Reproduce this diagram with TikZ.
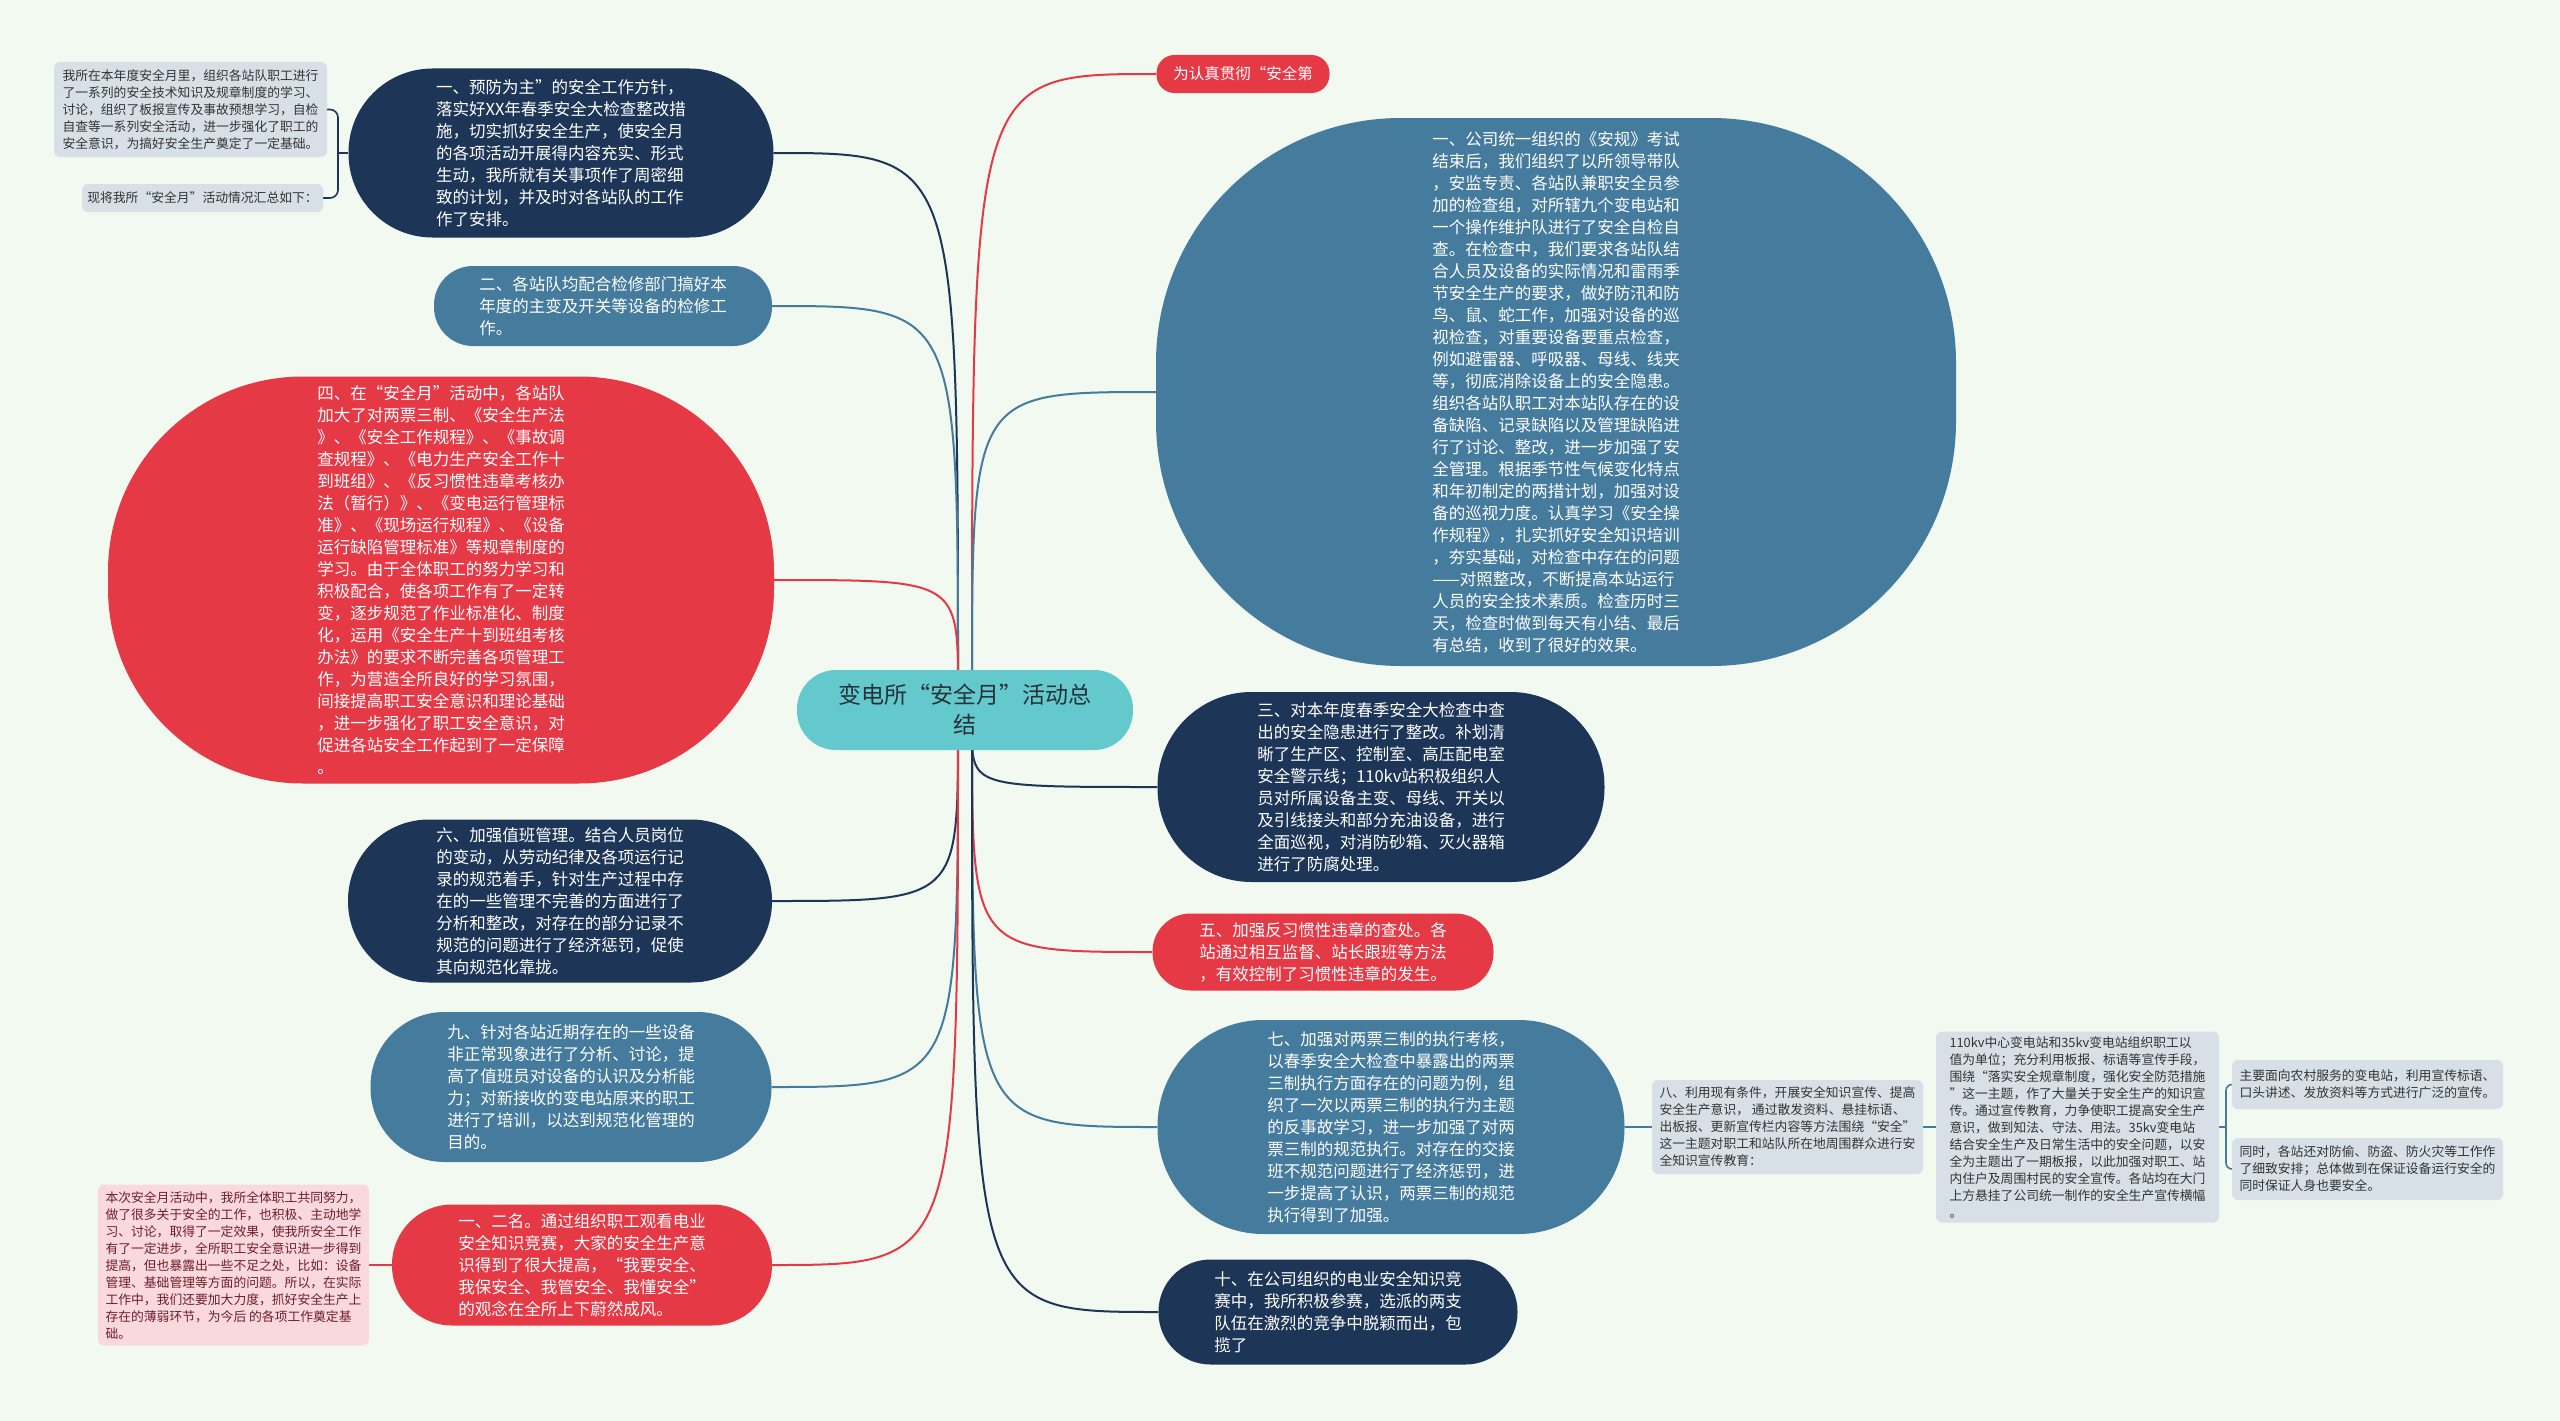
\documentclass[tikz,border=0pt]{standalone}
\usepackage{fontspec}
\newfontfamily\cjk{Noto Sans CJK SC}
\definecolor{bgc}{RGB}{241,249,240}
\definecolor{navy}{RGB}{29,53,87}
\definecolor{steel}{RGB}{69,123,157}
\definecolor{redc}{RGB}{230,57,70}
\definecolor{tealc}{RGB}{99,201,204}
\definecolor{notec}{RGB}{215,224,231}
\definecolor{pinkc}{RGB}{250,217,222}
\definecolor{notetxt}{RGB}{51,51,51}
\definecolor{pinktxt}{RGB}{110,30,40}
\definecolor{centertxt}{RGB}{38,50,56}
\pgfdeclarelayer{bglayer}
\pgfdeclarelayer{edgelayer}
\pgfsetlayers{bglayer,edgelayer,main}
\begin{document}
\begin{tikzpicture}[x=1pt,y=-1pt,
  topic/.style={align=left, text=white, inner sep=0pt, font=\cjk\fontsize{16.5}{22}\selectfont},
  note/.style={align=left, fill=notec, text=notetxt, rounded corners=6pt, inner sep=0pt, font=\cjk\fontsize{12.8}{17}\selectfont},
  pinknote/.style={note, fill=pinkc, text=pinktxt},
  link/.style={line width=2pt},
  thinlink/.style={line width=1.6pt},
]
\useasboundingbox (0,0) rectangle (2560,1421);
\begin{pgfonlayer}{bglayer}
\fill[bgc] (0,0) rectangle (2560,1421);
\end{pgfonlayer}

% center
\node[align=center, fill=tealc, text=centertxt, inner sep=0pt, rounded corners=39pt,
  minimum width=336pt, minimum height=80pt, font=\cjk\fontsize{23}{30}\selectfont]
  (c) at (965,710) {变电所“安全月”活动总\\结};
\coordinate (ctl) at (958,690);
\coordinate (ctr) at (972,690);
\coordinate (cbl) at (958,730);
\coordinate (cbr) at (972,730);

% right side
\node[topic, fill=redc, rounded corners=18pt, minimum width=173pt, minimum height=38pt,
  font=\cjk\fontsize{15.5}{20}\selectfont] (top) at (1243,74) {为认真贯彻“安全第};

\node[topic, fill=steel, rounded corners=245pt, minimum width=800pt, minimum height=548pt] (big) at (1556,392) {一、公司统一组织的《安规》考试\\结束后，我们组织了以所领导带队\\，安监专责、各站队兼职安全员参\\加的检查组，对所辖九个变电站和\\一个操作维护队进行了安全自检自\\查。在检查中，我们要求各站队结\\合人员及设备的实际情况和雷雨季\\节安全生产的要求，做好防汛和防\\鸟、鼠、蛇工作，加强对设备的巡\\视检查，对重要设备要重点检查，\\例如避雷器、呼吸器、母线、线夹\\等，彻底消除设备上的安全隐患。\\组织各站队职工对本站队存在的设\\备缺陷、记录缺陷以及管理缺陷进\\行了讨论、整改，进一步加强了安\\全管理。根据季节性气候变化特点\\和年初制定的两措计划，加强对设\\备的巡视力度。认真学习《安全操\\作规程》，扎实抓好安全知识培训\\，夯实基础，对检查中存在的问题\\——对照整改，不断提高本站运行\\人员的安全技术素质。检查历时三\\天，检查时做到每天有小结、最后\\有总结，收到了很好的效果。};

\node[topic, fill=navy, rounded corners=94pt, minimum width=447pt, minimum height=190pt] (n3) at (1381,787) {三、对本年度春季安全大检查中查\\出的安全隐患进行了整改。补划清\\晰了生产区、控制室、高压配电室\\安全警示线；110kv站积极组织人\\员对所属设备主变、母线、开关以\\及引线接头和部分充油设备，进行\\全面巡视，对消防砂箱、灭火器箱\\进行了防腐处理。};

\node[topic, fill=redc, rounded corners=38pt, minimum width=341pt, minimum height=77pt] (n5) at (1323,952) {五、加强反习惯性违章的查处。各\\站通过相互监督、站长跟班等方法\\，有效控制了习惯性违章的发生。};

\node[topic, fill=steel, rounded corners=106pt, minimum width=467pt, minimum height=214pt] (n7) at (1391,1127) {七、加强对两票三制的执行考核，\\以春季安全大检查中暴露出的两票\\三制执行方面存在的问题为例，组\\织了一次以两票三制的执行为主题\\的反事故学习，进一步加强了对两\\票三制的规范执行。对存在的交接\\班不规范问题进行了经济惩罚，进\\一步提高了认识，两票三制的规范\\执行得到了加强。};

\node[topic, fill=navy, rounded corners=52pt, minimum width=359pt, minimum height=105pt] (n10) at (1338,1312) {十、在公司组织的电业安全知识竞\\赛中，我所积极参赛，选派的两支\\队伍在激烈的竞争中脱颖而出，包\\揽了};

\node[note, minimum width=271pt, minimum height=94pt] (n8) at (1787.5,1127) {八、利用现有条件，开展安全知识宣传、提高\\安全生产意识， 通过散发资料、悬挂标语、\\出板报、更新宣传栏内容等方法围绕“安全”\\这一主题对职工和站队所在地周围群众进行安\\全知识宣传教育：};

\node[note, minimum width=283pt, minimum height=191pt] (n110) at (2077.5,1127) {110kv中心变电站和35kv变电站组织职工以\\值为单位；充分利用板报、标语等宣传手段，\\围绕“落实安全规章制度，强化安全防范措施\\”这一主题，作了大量关于安全生产的知识宣\\传。通过宣传教育，力争使职工提高安全生产\\意识，做到知法、守法、用法。35kv变电站\\结合安全生产及日常生活中的安全问题，以安\\全为主题出了一期板报，以此加强对职工、站\\内住户及周围村民的安全宣传。各站均在大门\\上方悬挂了公司统一制作的安全生产宣传横幅\\。};

\node[note, minimum width=271pt, minimum height=49pt] (na) at (2367.5,1084.5) {主要面向农村服务的变电站，利用宣传标语、\\口头讲述、发放资料等方式进行广泛的宣传。};
\node[note, minimum width=271pt, minimum height=62pt] (nb) at (2367.5,1169) {同时，各站还对防偷、防盗、防火灾等工作作\\了细致安排；总体做到在保证设备运行安全的\\同时保证人身也要安全。};
\coordinate (b2) at (2226,1127);

% left side
\node[topic, fill=navy, rounded corners=84pt, minimum width=425pt, minimum height=169pt] (n1) at (561,153) {一、预防为主”的安全工作方针，\\落实好XX年春季安全大检查整改措\\施，切实抓好安全生产，使安全月\\的各项活动开展得内容充实、形式\\生动，我所就有关事项作了周密细\\致的计划，并及时对各站队的工作\\作了安排。};

\node[note, minimum width=273pt, minimum height=95pt] (note1) at (190.5,109.5) {我所在本年度安全月里，组织各站队职工进行\\了一系列的安全技术知识及规章制度的学习、\\讨论，组织了板报宣传及事故预想学习，自检\\自查等一系列安全活动，进一步强化了职工的\\安全意识，为搞好安全生产奠定了一定基础。};
\node[note, minimum width=241pt, minimum height=28pt] (note2) at (202.5,198) {现将我所“安全月”活动情况汇总如下：};
\coordinate (b1) at (338,153);

\node[topic, fill=steel, rounded corners=39pt, minimum width=338pt, minimum height=80pt] (n2) at (603,306) {二、各站队均配合检修部门搞好本\\年度的主变及开关等设备的检修工\\作。};

\node[topic, fill=redc, rounded corners=195pt, minimum width=666pt, minimum height=407pt] (n4) at (441,580) {四、在“安全月”活动中，各站队\\加大了对两票三制、《安全生产法\\》、《安全工作规程》、《事故调\\查规程》、《电力生产安全工作十\\到班组》、《反习惯性违章考核办\\法（暂行）》、《变电运行管理标\\准》、《现场运行规程》、《设备\\运行缺陷管理标准》等规章制度的\\学习。由于全体职工的努力学习和\\积极配合，使各项工作有了一定转\\变，逐步规范了作业标准化、制度\\化，运用《安全生产十到班组考核\\办法》的要求不断完善各项管理工\\作，为营造全所良好的学习氛围，\\间接提高职工安全意识和理论基础\\，进一步强化了职工安全意识，对\\促进各站安全工作起到了一定保障\\。};

\node[topic, fill=navy, rounded corners=81pt, minimum width=424pt, minimum height=163pt] (n6) at (560,901) {六、加强值班管理。结合人员岗位\\的变动，从劳动纪律及各项运行记\\录的规范着手，针对生产过程中存\\在的一些管理不完善的方面进行了\\分析和整改，对存在的部分记录不\\规范的问题进行了经济惩罚，促使\\其向规范化靠拢。};

\node[topic, fill=steel, rounded corners=74pt, minimum width=401pt, minimum height=150pt] (n9) at (571,1087) {九、针对各站近期存在的一些设备\\非正常现象进行了分析、讨论，提\\高了值班员对设备的认识及分析能\\力；对新接收的变电站原来的职工\\进行了培训，以达到规范化管理的\\目的。};

\node[topic, fill=redc, rounded corners=60pt, minimum width=380pt, minimum height=121pt] (n12) at (582,1265) {一、二名。通过组织职工观看电业\\安全知识竞赛，大家的安全生产意\\识得到了很大提高，“我要安全、\\我保安全、我管安全、我懂安全”\\的观念在全所上下蔚然成风。};

\node[pinknote, minimum width=271pt, minimum height=161pt] (pink) at (233.5,1265) {本次安全月活动中，我所全体职工共同努力，\\做了很多关于安全的工作，也积极、主动地学\\习、讨论，取得了一定效果，使我所安全工作\\有了一定进步，全所职工安全意识进一步得到\\提高，但也暴露出一些不足之处，比如：设备\\管理、基础管理等方面的问题。所以，在实际\\工作中，我们还要加大力度，抓好安全生产上\\存在的薄弱环节，为今后 的各项工作奠定基\\础。};

\begin{pgfonlayer}{edgelayer}
% top-right
\draw[link, redc] (ctr) .. controls (ctr|-top.west) .. (top.west);
\draw[link, steel] (ctr) .. controls (ctr|-big.west) .. (big.west);
% bottom-right
\draw[link, navy] (cbr) .. controls (cbr|-n3.west) .. (n3.west);
\draw[link, redc] (cbr) .. controls (cbr|-n5.west) .. (n5.west);
\draw[link, steel] (cbr) .. controls (cbr|-n7.west) .. (n7.west);
\draw[link, navy] (cbr) .. controls (cbr|-n10.west) .. (n10.west);
% top-left
\draw[link, navy] (ctl) .. controls (ctl|-n1.east) .. (n1.east);
\draw[link, steel] (ctl) .. controls (ctl|-n2.east) .. (n2.east);
\draw[link, redc] (ctl) .. controls (ctl|-n4.east) .. (n4.east);
% bottom-left
\draw[link, navy] (cbl) .. controls (cbl|-n6.east) .. (n6.east);
\draw[link, steel] (cbl) .. controls (cbl|-n9.east) .. (n9.east);
\draw[link, redc] (cbl) .. controls (cbl|-n12.east) .. (n12.east);
% sub branches
\draw[thinlink, navy] (n1.west) -- (b1);
\draw[thinlink, navy, rounded corners=8pt] (note1.east) -| (b1) |- (note2.east);
\draw[thinlink, redc] (n12.west) -- (pink.east);
\draw[thinlink, steel] (n7.east) -- (n8.west);
\draw[thinlink, steel] (n8.east) -- (n110.west);
\draw[thinlink, steel] (n110.east) -- (b2);
\draw[thinlink, steel, rounded corners=6pt] (na.west) -| (b2) |- (nb.west);
\end{pgfonlayer}
\end{tikzpicture}
\end{document}
